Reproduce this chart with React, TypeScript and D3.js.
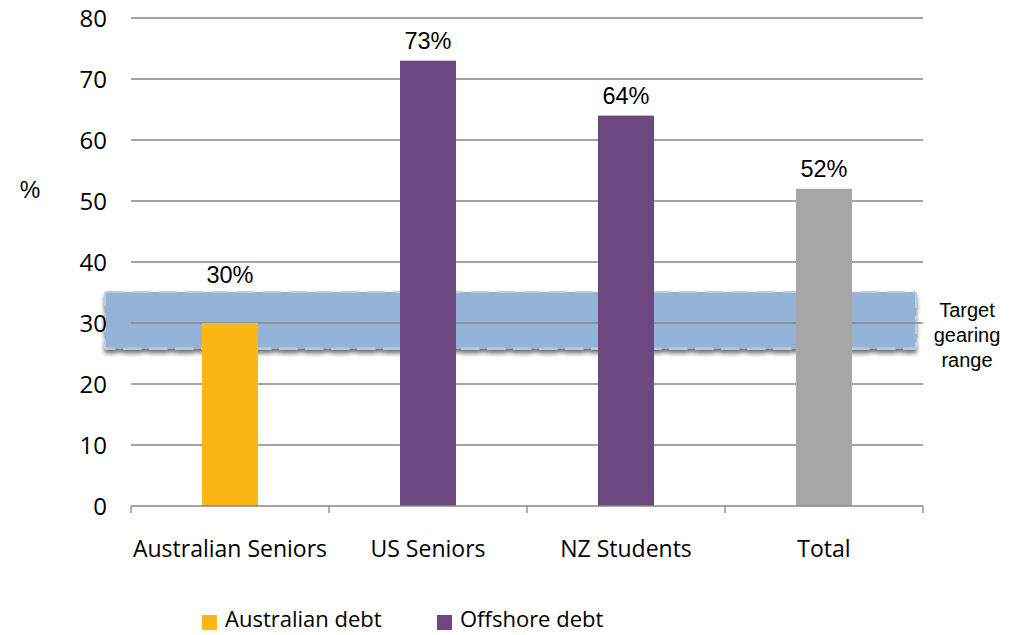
import React from "react";
import * as d3 from "d3";

const categories = ["Australian Seniors", "US Seniors", "NZ Students", "Total"];
const values = [30, 73, 64, 52];
const seriesOf = ["Australian debt", "Offshore debt", "Offshore debt", "Total"];
const valueLabels = ["30%", "73%", "64%", "52%"];
const yTicks = [0, 10, 20, 30, 40, 50, 60, 70, 80];
const targetRange = [25.8, 35.1];
const legendItems = ["Australian debt", "Offshore debt"];

const colors: Record<string, string> = {
  "Australian debt": "#FBB714",
  "Offshore debt": "#6C4780",
  Total: "#A6A6A6",
};

export default function App() {
  const W = 1017, H = 635;
  const left = 131, right = 923, top = 18, bottom = 506;
  const x = d3.scaleBand<string>().domain(categories).range([left, right]).paddingInner(0).paddingOuter(0);
  const y = d3.scaleLinear().domain([0, 80]).range([bottom, top]);
  const barW = 56;
  const sans = "Arial, 'Liberation Sans', sans-serif";
  const cal = "'Open Sans', sans-serif";
  const boundaries = [...categories.map((c) => x(c)!), right];
  return (
    <svg width={W} height={H} style={{ position: "absolute", left: 0, top: 0 }}>
      <defs>
        <filter id="sh" x="-5%" y="-30%" width="110%" height="180%">
          <feGaussianBlur in="SourceAlpha" stdDeviation="2" />
          <feOffset dx="0" dy="4" result="b" />
          <feComponentTransfer><feFuncA type="linear" slope="0.55" /></feComponentTransfer>
          <feMerge>
            <feMergeNode />
            <feMergeNode in="SourceGraphic" />
          </feMerge>
        </filter>
      </defs>
      <rect width={W} height={H} fill="#fff" />
      {/* target band */}
      <rect
        x={105}
        width={811}
        y={y(targetRange[1])}
        height={y(targetRange[0]) - y(targetRange[1])}
        fill="#95B3D7"
        stroke="#B9CDE6"
        strokeWidth={2}
        strokeDasharray="18 8"
        rx={2}
        filter="url(#sh)"
      />
      {/* gridlines */}
      {yTicks.filter((t) => t > 0).map((t) => (
        <line key={t} x1={left} x2={right} y1={y(t)} y2={y(t)} stroke="#868686" strokeWidth={1.3} />
      ))}
      {/* bars */}
      {categories.map((c, i) => {
        const cx = x(c)! + x.bandwidth() / 2;
        const ly = Math.min(y(values[i]) - 12, y(targetRange[1]) - 9);
        return (
          <g key={c}>
            <rect x={cx - barW / 2} width={barW} y={y(values[i])} height={bottom - y(values[i])} fill={colors[seriesOf[i]]} />
            <text x={cx} y={ly} textAnchor="middle" fontFamily={sans} fontSize={23.5} fill="#000">
              {valueLabels[i]}
            </text>
            <text x={cx} y={557} textAnchor="middle" fontFamily={cal} fontSize={23} fill="#000">
              {c}
            </text>
          </g>
        );
      })}
      {/* axis */}
      <line x1={left} x2={right} y1={bottom} y2={bottom} stroke="#868686" strokeWidth={1.3} />
      {boundaries.map((b, i) => (
        <line key={i} x1={b} x2={b} y1={bottom} y2={bottom + 7} stroke="#868686" strokeWidth={1.3} />
      ))}
      {yTicks.map((t) => (
        <text key={t} x={107} y={y(t) + 8.5} textAnchor="end" fontFamily={cal} fontSize={24} fill="#000">
          {t}
        </text>
      ))}
      <text x={30} y={198} textAnchor="middle" fontFamily={sans} fontSize={23}>%</text>
      <text fontFamily={sans} fontSize={20} textAnchor="middle">
        <tspan x={967} y={317}>Target</tspan>
        <tspan x={967} y={342}>gearing</tspan>
        <tspan x={967} y={367}>range</tspan>
      </text>
      {/* legend */}
      {legendItems.map((l, i) => {
        const lx = [202, 437][i];
        return (
          <g key={l}>
            <rect x={lx} y={615} width={15} height={15} fill={colors[l]} />
            <text x={lx + 23} y={627} fontFamily={cal} fontSize={22} fill="#000">{l}</text>
          </g>
        );
      })}
    </svg>
  );
}
